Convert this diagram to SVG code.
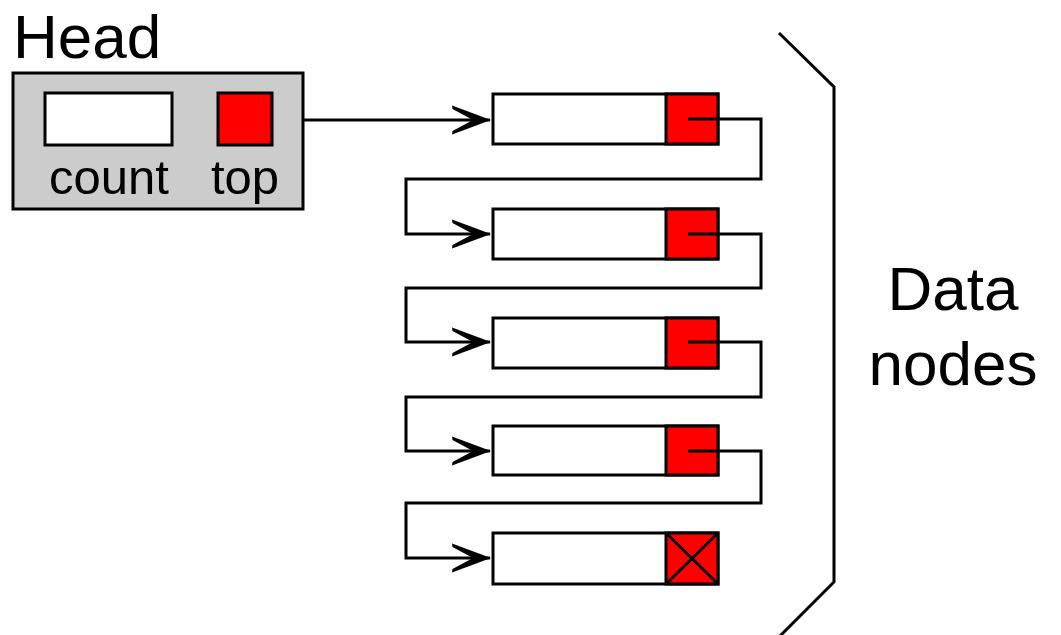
<svg xmlns="http://www.w3.org/2000/svg" width="1061" height="635" viewBox="0 0 1061 635">
<style>
.lbl{font-family:"Liberation Sans",Arial,sans-serif;fill:#000}
.box{stroke:#000;stroke-width:3}
.wire{fill:none;stroke:#000;stroke-width:3;stroke-linejoin:miter}
.red{fill:#ff0000}
</style>
<defs>
<marker id="arr" markerUnits="userSpaceOnUse" markerWidth="40" markerHeight="32" refX="38" refY="16" orient="auto" viewBox="0 0 40 32">
<path d="M39,16 L0,1.5 L0.5,5 L21,16 L0.5,27 L0,30.5 Z" fill="#000"/>
</marker>
</defs>
<rect width="1061" height="635" fill="#fff"/>
<g id="head">
<text class="lbl" x="13" y="58" font-size="62">Head</text>
<rect class="box" x="13" y="73" width="290" height="136" fill="#cccccc"/>
<rect class="box" x="45" y="93" width="127" height="52" fill="#fff"/>
<rect class="box red" x="218" y="93" width="54" height="52"/>
<text class="lbl" x="109" y="194" font-size="49" text-anchor="middle">count</text>
<text class="lbl" x="245" y="194" font-size="49" text-anchor="middle">top</text>
</g>
<g id="node1">
<rect class="box" x="493" y="94" width="225" height="50" fill="#fff"/>
<rect class="box red" x="666" y="94" width="52" height="50"/>
</g>
<g id="node2">
<rect class="box" x="493" y="209" width="225" height="50" fill="#fff"/>
<rect class="box red" x="666" y="209" width="52" height="50"/>
</g>
<g id="node3">
<rect class="box" x="493" y="318" width="225" height="50" fill="#fff"/>
<rect class="box red" x="666" y="318" width="52" height="50"/>
</g>
<g id="node4">
<rect class="box" x="493" y="426" width="225" height="49" fill="#fff"/>
<rect class="box red" x="666" y="426" width="52" height="49"/>
</g>
<g id="node5">
<rect class="box" x="493" y="533" width="225" height="51" fill="#fff"/>
<rect class="box red" x="666" y="533" width="52" height="51"/>
<path d="M666,533 L718,584 M718,533 L666,584" stroke="#000" stroke-width="3"/>
</g>
<g id="connectors">
<path class="wire" d="M303,120 H490" marker-end="url(#arr)"/>
<path class="wire" d="M688,119 H761 V179 H406 V234 H490" marker-end="url(#arr)"/>
<path class="wire" d="M688,234 H761 V288 H406 V342 H490" marker-end="url(#arr)"/>
<path class="wire" d="M688,342 H761 V397 H406 V451 H490" marker-end="url(#arr)"/>
<path class="wire" d="M688,451 H761 V503 H406 V558 H490" marker-end="url(#arr)"/>
</g>
<g id="bracket">
<path class="wire" d="M779,33 L834,87 V582 L776,640" stroke-width="3"/>
<text class="lbl" x="953" y="310" font-size="62" text-anchor="middle">Data</text>
<text class="lbl" x="953" y="385" font-size="62" text-anchor="middle">nodes</text>
</g>
</svg>
